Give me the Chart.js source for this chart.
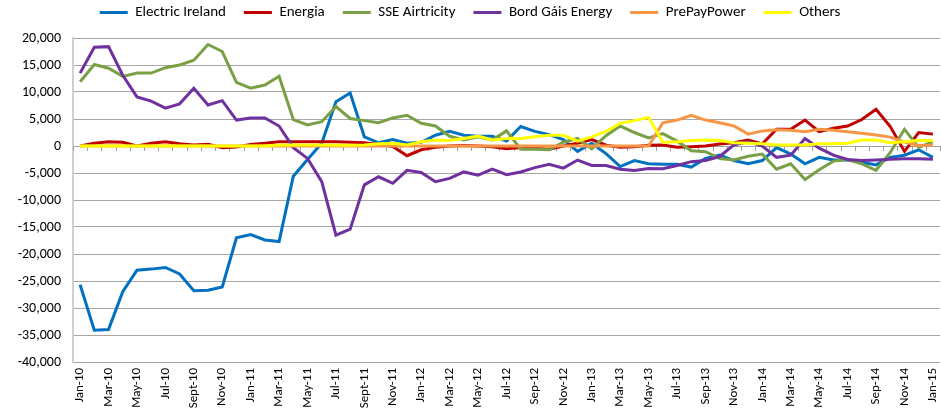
<!DOCTYPE html>
<html>
<head>
<meta charset="utf-8">
<script src="https://cdn.jsdelivr.net/npm/chart.js@4.4.0/dist/chart.umd.min.js"></script>
<style>
  html, body { margin: 0; padding: 0; background: #fff; }
  #switching { display: block; }
</style>
</head>
<body>
<canvas id="switching" width="941" height="416"></canvas>
<script>
const months = [
    'Jan-10', 'Feb-10', 'Mar-10', 'Apr-10', 'May-10', 'Jun-10', 'Jul-10', 'Aug-10', 'Sept-10', 'Oct-10', 'Nov-10', 'Dec-10',
    'Jan-11', 'Feb-11', 'Mar-11', 'Apr-11', 'May-11', 'Jun-11', 'Jul-11', 'Aug-11', 'Sept-11', 'Oct-11', 'Nov-11', 'Dec-11',
    'Jan-12', 'Feb-12', 'Mar-12', 'Apr-12', 'May-12', 'Jun-12', 'Jul-12', 'Aug-12', 'Sep-12', 'Oct-12', 'Nov-12', 'Dec-12',
    'Jan-13', 'Feb-13', 'Mar-13', 'Apr-13', 'May-13', 'Jun-13', 'Jul-13', 'Aug-13', 'Sep-13', 'Oct-13', 'Nov-13', 'Dec-13',
    'Jan-14', 'Feb-14', 'Mar-14', 'Apr-14', 'May-14', 'Jun-14', 'Jul-14', 'Aug-14', 'Sep-14', 'Oct-14', 'Nov-14', 'Dec-14',
    'Jan-15'
];

const electricIreland = [
    -25700, -34100, -34000, -27000, -23000, -22800, -22500, -23700, -26800, -26700, -26100, -17000,
    -16400, -17400, -17700, -5600, -2500, 500, 8200, 9800, 1700, 600, 1200, 500,
    700, 2000, 2700, 2000, 1800, 1800, 900, 3600, 2700, 2100, 1200, -1000,
    500, -1400, -3800, -2700, -3300, -3400, -3400, -3900, -2300, -1700, -2700, -3300,
    -2700, -300, -1500, -3300, -2100, -2600, -2600, -3000, -3500, -2100, -1700, -700,
    -2100
];
const energia = [
    0, 500, 800, 700, 0, 500, 800, 400, 200, 300, -300, -200,
    300, 500, 800, 800, 800, 800, 800, 700, 600, 300, -100, -1800,
    -700, -250, 0, 100, 0, -150, -500, -300, -400, -600, 0, 500,
    1200, 150, -250, -120, 150, 185, -250, -120, 0, 370, 620, 1100,
    400, 3100, 3100, 4800, 2650, 3300, 3700, 4900, 6800, 3600, -1000, 2500,
    2200
];
const sseAirtricity = [
    11900, 15100, 14400, 12900, 13500, 13500, 14500, 15000, 15900, 18800, 17500, 11800,
    10700, 11300, 12900, 4900, 3900, 4500, 7300, 5100, 4700, 4300, 5200, 5700,
    4200, 3700, 1800, 1100, 1700, 1100, 2800, -600, -600, -700, 700, 1400,
    -500, 1900, 3700, 2500, 1500, 2300, 900, -900, -1050, -2300, -2600, -1900,
    -1500, -4300, -3300, -6200, -4400, -2800, -2500, -3300, -4500, -1200, 3100, -250,
    800
];
const bordGais = [
    13500, 18300, 18400, 13100, 9100, 8300, 7000, 7800, 10700, 7600, 8400, 4800,
    5200, 5200, 3700, -300, -2300, -6600, -16500, -15400, -7200, -5700, -6900, -4500,
    -4900, -6600, -6000, -4800, -5400, -4300, -5300, -4800, -4000, -3400, -4100, -2600,
    -3600, -3600, -4300, -4550, -4150, -4200, -3600, -2900, -2700, -1950, 200, 800,
    0, -2100, -1700, 1400, -400, -1700, -2500, -2700, -2600, -2450, -2350, -2350,
    -2450
];
const prePayPower = [
    0, 0, 0, 0, 0, 0, 0, 0, 0, 0, 0, 0,
    0, 0, 0, 0, 0, 0, 0, 0, 0, 0, 0, 0,
    0, 0, 0, 0, 0, 0, 0, 0, 0, 0, 0, 0,
    0, 0, 0, 0, 0, 4300, 4800, 5700, 4800, 4300, 3700, 2200,
    2800, 3000, 2900, 2650, 3100, 2900, 2650, 2350, 2050, 1650, 750, 100,
    150
];
const others = [
    0, 0, 0, 0, 0, 0, 0, 0, 0, 0, 0, 0,
    0, 0, 200, 200, 200, 200, 150, 150, 200, 400, 500, 200,
    800, 1100, 1000, 1400, 1850, 1100, 1400, 1400, 1700, 2000, 2000, 900,
    1700, 2700, 4200, 4700, 5300, 700, 800, 1000, 1100, 1000, 600, 500,
    400, 200, 200, 200, 400, 400, 500, 1100, 1100, 600, 800, 1000,
    1000
];

const yTicks = { min: -40000, max: 20000, step: 5000 };

const seriesNames = ['Electric Ireland', 'Energia', 'SSE Airtricity', 'Bord Gáis Energy', 'PrePayPower', 'Others'];
const seriesData = [electricIreland, energia, sseAirtricity, bordGais, prePayPower, others];
const seriesColors = ['#0070c0', '#c00000', '#7aa046', '#7030a0', '#f79646', '#ffff00'];

const fontFamily = 'Carlito, "Liberation Sans Narrow", "Liberation Sans", sans-serif';

// excel style category axis sitting on the zero line, with small ticks
const zeroAxis = {
    id: 'zeroAxis',
    beforeDatasetsDraw(chart) {
        const x = chart.scales.x;
        const y = chart.scales.y;
        const y0 = Math.round(y.getPixelForValue(0));
        const ctx = chart.ctx;
        const half = (x.getPixelForValue(1) - x.getPixelForValue(0)) / 2;
        ctx.save();
        ctx.strokeStyle = '#a0a0a0';
        ctx.lineWidth = 1;
        ctx.beginPath();
        ctx.moveTo(chart.chartArea.left, y0 + 0.5);
        ctx.lineTo(chart.chartArea.right, y0 + 0.5);
        for (let i = 0; i <= months.length; i++) {
            const px = Math.round(x.getPixelForValue(i) - half) + 0.5;
            ctx.moveTo(px, y0);
            ctx.lineTo(px, y0 + 5);
        }
        ctx.stroke();
        ctx.restore();
    }
};

// legend padding is wide between items, but we want it tight vertically
const legendTight = {
    id: 'legendTight',
    beforeInit(chart) {
        const lg = chart.legend;
        const proto = Object.getPrototypeOf(lg);
        lg.fit = function () {
            proto.fit.call(this);
            this.height = 38;
        };
        lg.draw = function () {
            const shift = 13;
            this.top -= shift;
            proto.draw.call(this);
            this.top += shift;
        };
    }
};

const ctx = document.getElementById('switching').getContext('2d');

const switchingChart = new Chart(ctx, {
    type: 'line',
    data: {
        labels: months,
        datasets: seriesNames.map((name, i) => ({
            label: name,
            data: seriesData[i],
            borderColor: seriesColors[i],
            backgroundColor: seriesColors[i],
            borderWidth: 3,
            pointRadius: 0,
            tension: 0,
            fill: false,
            order: seriesNames.length - i
        }))
    },
    options: {
        responsive: false,
        animation: false,
        layout: {
            padding: { top: 0, right: 1, left: 0, bottom: 0 }
        },
        plugins: {
            legend: {
                position: 'top',
                align: 'center',
                labels: {
                    usePointStyle: true,
                    pointStyle: 'line',
                    pointStyleWidth: 28,
                    padding: 18,
                    color: '#000',
                    font: { family: fontFamily, size: 15 },
                    sort: (a, b) => a.datasetIndex - b.datasetIndex
                }
            },
            tooltip: { enabled: false }
        },
        scales: {
            x: {
                offset: true,
                grid: { display: false, drawTicks: false },
                border: { display: false },
                ticks: {
                    autoSkip: false,
                    minRotation: 90,
                    maxRotation: 90,
                    padding: 6,
                    color: '#000',
                    font: { family: fontFamily, size: 13 },
                    callback: function (value, index) {
                        return index % 2 === 0 ? this.getLabelForValue(value) : '';
                    }
                },
                afterFit: (scale) => {
                    scale.height = 54;
                    scale.paddingLeft = 0;
                    scale.paddingRight = 0;
                }
            },
            y: {
                min: yTicks.min,
                max: yTicks.max,
                grid: { color: '#a6a6a6', drawTicks: false },
                border: { display: true, color: '#d0d0d0', width: 2 },
                ticks: {
                    stepSize: yTicks.step,
                    padding: 12,
                    color: '#000',
                    font: { family: fontFamily, size: 14 },
                    callback: (v) => v.toLocaleString('en-US')
                },
                afterFit: (scale) => {
                    scale.width = 73;
                    scale.paddingTop = 0;
                }
            }
        }
    },
    plugins: [zeroAxis, legendTight]
});
</script>
</body>
</html>
